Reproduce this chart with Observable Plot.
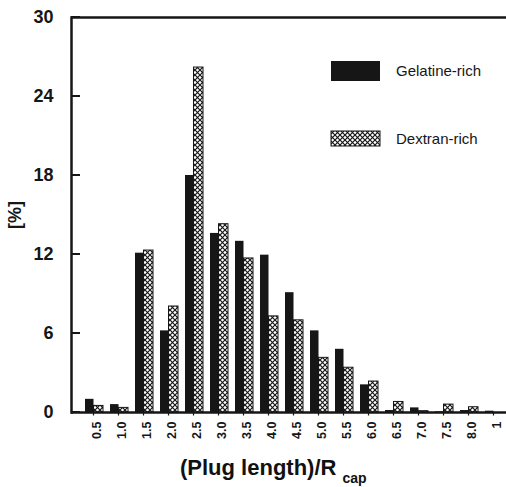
<!DOCTYPE html>
<html>
<head>
<meta charset="utf-8">
<script src="https://cdn.jsdelivr.net/npm/d3@7"></script>
<script src="https://cdn.jsdelivr.net/npm/@observablehq/plot@0.6"></script>
<style>
  html, body { margin: 0; padding: 0; background: #fff; overflow: hidden; }
  #wrap { position: relative; width: 506px; height: 487px; font-family: "Liberation Sans", Arial, Helvetica, sans-serif; color: #111; }
  #xtitle { position: absolute; left: 180px; top: 457px; font-size: 22px; font-weight: bold; line-height: 1; white-space: nowrap; }
  #xtitle .sub { font-size: 14px; position: relative; top: 8px; margin-left: 6px; }
</style>
</head>
<body>
<div id="wrap"></div>
<script>
// ---- data ----
const categories = ["0.5","1.0","1.5","2.0","2.5","3.0","3.5","4.0","4.5","5.0","5.5","6.0","6.5","7.0","7.5","8.0","1"];
const gelatineRich = [1.0, 0.6, 12.1, 6.2, 18.0, 13.6, 13.0, 11.95, 9.1, 6.2, 4.8, 2.1, 0.15, 0.35, 0.05, 0.15, 0.1];
const dextranRich  = [0.5, 0.35, 12.3, 8.05, 26.2, 14.3, 11.7, 7.3, 7.0, 4.15, 3.4, 2.35, 0.8, 0.1, 0.6, 0.4, 0];
const seriesNames = ["Gelatine-rich", "Dextran-rich"];
const yTicks = [0, 6, 12, 18, 24, 30];

const gelRows = categories.map((c, i) => ({cat: c, value: gelatineRich[i]}));
const dexRows = categories.map((c, i) => ({cat: c, value: dextranRich[i]}));

const ink = "#161616";

// tick marks drawn from the plot's own scales: inward on y, short downward on x
function tickMarks(index, scales, values, dimensions) {
  const g = d3.create("svg:g").attr("stroke", ink);
  const {marginLeft, height, marginBottom} = dimensions;
  const y0 = height - marginBottom;
  for (const t of yTicks) {
    const yy = scales.y(t);
    g.append("line").attr("x1", marginLeft).attr("x2", marginLeft + 9).attr("y1", yy).attr("y2", yy).attr("stroke-width", 2);
  }
  const bw = scales.x.bandwidth ? scales.x.bandwidth() : 0;
  for (const c of categories) {
    const xx = scales.x(c) + bw / 2;
    g.append("line").attr("x1", xx).attr("x2", xx).attr("y1", y0).attr("y2", y0 + 3.5).attr("stroke-width", 1.2);
  }
  return g.node();
}

const plot = Plot.plot({
  width: 506,
  height: 450,
  marginTop: 17,
  marginBottom: 38,
  marginLeft: 71,
  marginRight: 0,
  style: {fontFamily: "Liberation Sans, Arial, Helvetica, sans-serif", color: ink, background: "#fff"},
  x: {type: "band", domain: categories, range: [80.5, 505.5], padding: 0},
  y: {domain: [0, 30]},
  marks: [
    Plot.barY(gelRows, {x: "cat", y: "value", fill: ink, insetLeft: 4, insetRight: 12.5}),
    Plot.barY(dexRows, {x: "cat", y: "value", fill: "url(#xhatch)", stroke: ink, strokeWidth: 1, insetLeft: 12.5, insetRight: 3}),
    Plot.ruleY([0, 30], {stroke: ink, strokeWidth: 2.5}),
    Plot.frame({anchor: "left", stroke: ink, strokeWidth: 2.5}),
    tickMarks,
    Plot.axisY({ticks: yTicks, tickSize: 0, tickPadding: 18, fontSize: 18, fontWeight: "bold",
      label: "[%]", labelAnchor: "center", labelOffset: 63, labelArrow: "none"}),
    Plot.axisX({tickSize: 0, tickRotate: -90, tickPadding: 9, dx: 3, fontSize: 12.5, fontWeight: "bold", label: null})
  ]
});

// cross-hatch pattern definition
const svg = d3.select(plot);
const defs = svg.insert("defs", ":first-child");
const pat = defs.append("pattern").attr("id", "xhatch").attr("patternUnits", "userSpaceOnUse")
  .attr("width", 5).attr("height", 5);
pat.append("rect").attr("width", 5).attr("height", 5).attr("fill", "#fff");
pat.append("path").attr("d", "M0,0L5,5M5,0L0,5").attr("stroke", ink).attr("stroke-width", 1.2);

// legend
const lg = svg.append("g").attr("font-family", "Liberation Sans, Arial, Helvetica, sans-serif")
  .attr("font-size", 15).attr("fill", ink).attr("text-anchor", "start");
const legendFills = [ink, "url(#xhatch)"];
const legendRects = [[61, 20], [131, 15]];
seriesNames.forEach((name, i) => {
  lg.append("rect").attr("x", 331).attr("y", legendRects[i][0]).attr("width", 49).attr("height", legendRects[i][1])
    .attr("fill", legendFills[i]).attr("stroke", i ? ink : "none").attr("stroke-width", 1);
  lg.append("text").attr("x", 396).attr("y", legendRects[i][0] + legendRects[i][1] / 2).attr("dy", "0.35em").text(name);
});

const wrap = document.getElementById("wrap");
wrap.appendChild(plot);
const xt = document.createElement("div");
xt.id = "xtitle";
xt.innerHTML = '(Plug length)/R<span class="sub">cap</span>';
wrap.appendChild(xt);
</script>
</body>
</html>
